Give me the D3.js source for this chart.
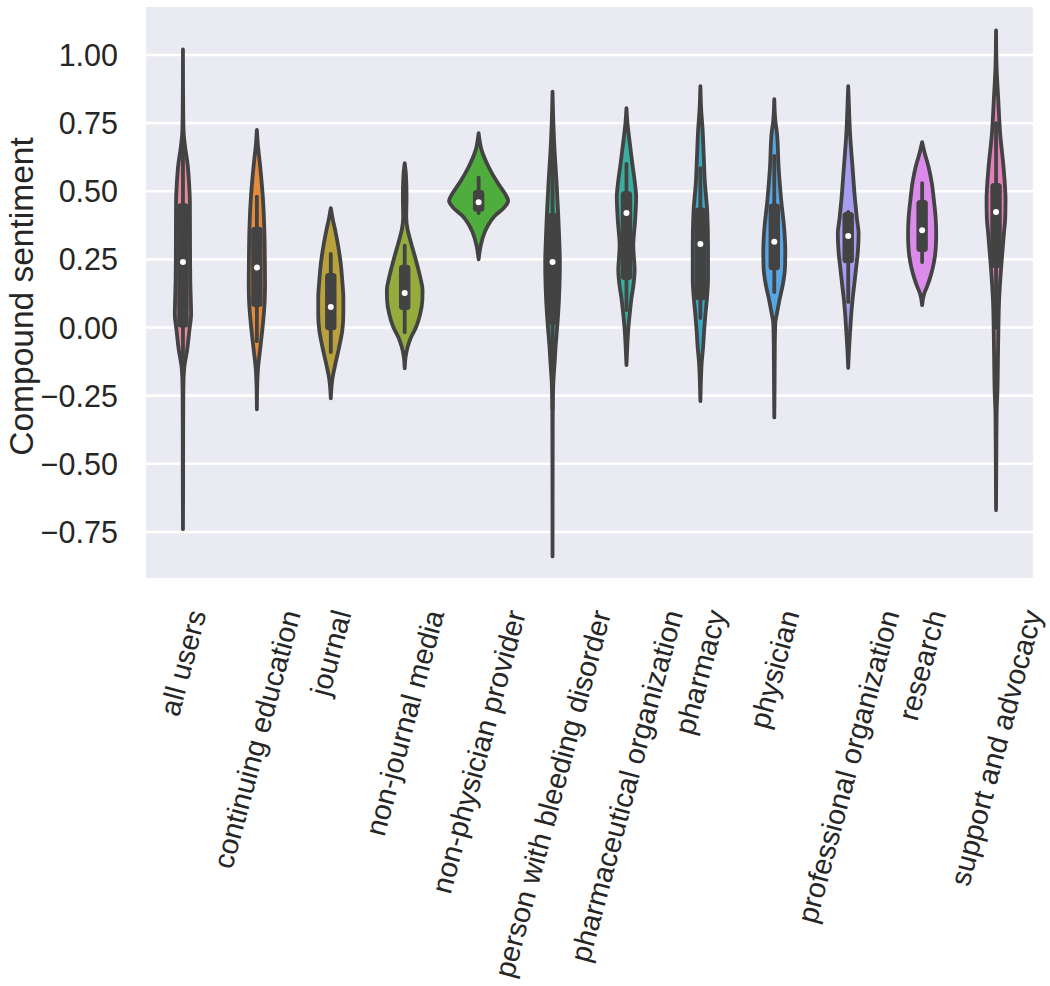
<!DOCTYPE html>
<html>
<head>
<meta charset="utf-8">
<script src="https://cdn.jsdelivr.net/npm/d3@7"></script>
<style>
  html, body { margin: 0; padding: 0; background: #ffffff; }
  svg { display: block; }
  text { font-family: "Liberation Sans", Arial, Helvetica, sans-serif; fill: #262626; }
</style>
</head>
<body>
<svg id="chart" width="1050" height="986"></svg>
<script>
// ---------------- data ----------------
const categories = [
  "all users", "continuing education", "journal", "non-journal media",
  "non-physician provider", "person with bleeding disorder",
  "pharmaceutical organization", "pharmacy", "physician",
  "professional organization", "research", "support and advocacy"
];
const colors = [
  "#e5899b", "#e48b3c", "#b9a13c", "#95ab3c", "#4fad3e", "#3aaa86",
  "#3aae9f", "#3ba8c2", "#57a7e6", "#a79df0", "#dc8aec", "#e67dbd"
];
const yTicks = [1.0, 0.75, 0.5, 0.25, 0.0, -0.25, -0.5, -0.75];

const whiskerLow  = [-0.30, -0.05, -0.09, -0.017, 0.42, -0.30, 0.064, 0.035, 0.13, 0.094, 0.24, 0.00];
const q1          = [ 0.00,  0.075, -0.01, 0.064, 0.425, 0.01, 0.174, 0.10, 0.21, 0.236, 0.277, 0.218];
const medians     = [ 0.24,  0.22,  0.075, 0.127, 0.46,  0.24, 0.42,  0.306, 0.315, 0.336, 0.357, 0.424];
const q3          = [ 0.456, 0.37,  0.20,  0.23,  0.505, 0.42, 0.50,  0.44, 0.455, 0.424, 0.468, 0.53];
const whiskerHigh = [ 0.75,  0.48,  0.27,  0.30,  0.55,  0.68, 0.60,  0.585, 0.63, 0.424, 0.53, 0.75];

// density profiles: [value, relative density]
const densityAllUsers = [[1.02,0],[0.88,0.1],[0.78,0.3],[0.72,0.6],[0.66,2.2],[0.60,4.5],[0.53,6],[0.456,6.8],[0.36,6.9],[0.25,7],[0.17,7.2],[0.10,7.7],[0.05,8],[-0.01,6.3],[-0.08,4.2],[-0.15,1.2],[-0.22,0.4],[-0.4,0.2],[-0.6,0.15],[-0.74,0]];
const densityContinuing = [[0.725,0],[0.67,1],[0.60,3],[0.48,5.8],[0.36,7.3],[0.25,7.8],[0.17,8],[0.10,7.7],[0.05,6.8],[-0.01,5.3],[-0.07,3.5],[-0.156,1],[-0.22,0.3],[-0.30,0]];
const densityJournal = [[0.438,0],[0.40,1.8],[0.357,4.3],[0.30,7.2],[0.236,9.7],[0.17,11.3],[0.11,12.3],[0.05,12.3],[-0.01,11.3],[-0.07,8.3],[-0.13,4.7],[-0.19,1.5],[-0.26,0]];
const densityNonJournal = [[0.603,0],[0.56,1.2],[0.48,1.8],[0.405,1.5],[0.36,2.8],[0.32,5.5],[0.236,11.8],[0.18,15.5],[0.138,17.5],[0.10,17.3],[0.05,15.2],[0.0,11],[-0.035,6.3],[-0.07,3],[-0.11,0.8],[-0.15,0]];
const densityNonPhysician = [[0.713,0],[0.65,3],[0.59,9.7],[0.53,18.8],[0.49,26],[0.465,29],[0.44,25],[0.41,16],[0.38,10],[0.35,6],[0.30,2],[0.25,0]];
const densityPerson = [[0.865,0],[0.787,0.5],[0.662,1.8],[0.54,3.8],[0.42,5.5],[0.33,6.5],[0.236,7.2],[0.15,6.8],[0.05,5.5],[0.0,4.5],[-0.07,3],[-0.12,2.2],[-0.2,0.8],[-0.3,0.2],[-0.5,0.1],[-0.84,0]];
const densityPharma = [[0.805,0],[0.75,1],[0.70,2.5],[0.60,5.8],[0.53,8.3],[0.48,9.5],[0.394,8.5],[0.30,6.7],[0.21,8],[0.16,7],[0.11,5],[0.05,3.2],[-0.01,1.7],[-0.07,0.8],[-0.138,0]];
const densityPharmacy = [[0.886,0],[0.80,0.8],[0.725,2.2],[0.63,3.3],[0.54,4.3],[0.42,6.8],[0.30,7.5],[0.174,7.5],[0.11,6.5],[0.05,5],[-0.01,3.7],[-0.07,2.7],[-0.13,1.3],[-0.2,0.5],[-0.27,0]];
const densityPhysician = [[0.838,0],[0.76,1],[0.71,2.7],[0.59,4.2],[0.47,6.7],[0.35,10],[0.28,10.8],[0.22,10.5],[0.16,8.5],[0.10,5],[0.05,2.5],[0.016,1],[-0.07,0.5],[-0.2,0.3],[-0.33,0]];
const densityProfessional = [[0.886,0],[0.835,0.5],[0.713,1.8],[0.59,4.2],[0.468,6.7],[0.40,8.5],[0.345,10.2],[0.28,9.5],[0.22,7.8],[0.16,6],[0.10,4.2],[0.04,2.8],[-0.02,1.8],[-0.08,0.8],[-0.148,0]];
const densityResearch = [[0.68,0],[0.64,2.5],[0.59,6.3],[0.53,9.5],[0.468,11.5],[0.40,13.3],[0.345,13.8],[0.30,13.5],[0.26,12.5],[0.22,10.5],[0.185,8],[0.15,4.8],[0.126,2.2],[0.082,0]];
const densitySupport = [[1.09,0],[0.96,0.5],[0.835,2.2],[0.713,4],[0.59,7.3],[0.468,9.3],[0.40,9],[0.345,7.7],[0.22,5],[0.10,3],[-0.08,2],[-0.24,1.3],[-0.31,0.6],[-0.45,0.3],[-0.67,0]];

const profiles = [densityAllUsers, densityContinuing, densityJournal, densityNonJournal,
  densityNonPhysician, densityPerson, densityPharma, densityPharmacy, densityPhysician,
  densityProfessional, densityResearch, densitySupport];

// ---------------- layout ----------------
const plot = { left: 146, right: 1033, top: 7, bottom: 578 };
const gray = "#434343";
const outlineW = 3.8;

const svg = d3.select("#chart");

const x = d3.scaleBand().domain(categories).range([plot.left, plot.right]).padding(0);
const y = d3.scaleLinear().domain([-0.919, 1.176]).range([plot.bottom, plot.top]);
const maxDensity = d3.max(profiles, p => d3.max(p, d => d[1]));
const w = d3.scaleLinear().domain([0, maxDensity]).range([0, x.bandwidth() * 0.4]);

// background
svg.append("rect")
  .attr("x", plot.left).attr("y", plot.top)
  .attr("width", plot.right - plot.left).attr("height", plot.bottom - plot.top)
  .attr("fill", "#eaeaf2");

// grid
svg.append("g").selectAll("line").data(yTicks).join("line")
  .attr("x1", plot.left).attr("x2", plot.right)
  .attr("y1", d => y(d)).attr("y2", d => y(d))
  .attr("stroke", "#ffffff").attr("stroke-width", 2.6);

// y axis tick labels
const fmt = d3.format(".2f");
svg.append("g").selectAll("text").data(yTicks).join("text")
  .attr("x", 118).attr("y", d => y(d))
  .attr("text-anchor", "end").attr("dominant-baseline", "central")
  .style("font-size", "30.5px")
  .text(d => fmt(d));

// y label
svg.append("text")
  .attr("transform", `translate(33,${(plot.top + plot.bottom) / 2 + 4}) rotate(-90)`)
  .attr("text-anchor", "middle")
  .style("font-size", "33.5px")
  .text("Compound sentiment");

// violins
const g = svg.append("g");
categories.forEach((cat, i) => {
  const cx = x(cat) + x.bandwidth() / 2;
  const area = d3.area()
    .curve(d3.curveMonotoneY)
    .y(d => y(d[0]))
    .x0(d => cx - w(d[1]))
    .x1(d => cx + w(d[1]));
  const vg = g.append("g");
  vg.append("path")
    .attr("d", area(profiles[i]))
    .attr("fill", colors[i])
    .attr("stroke", gray)
    .attr("stroke-width", outlineW)
    .attr("stroke-linejoin", "round");
  // whisker
  vg.append("line")
    .attr("x1", cx).attr("x2", cx)
    .attr("y1", y(whiskerHigh[i])).attr("y2", y(whiskerLow[i]))
    .attr("stroke", gray).attr("stroke-width", outlineW)
    .attr("stroke-linecap", "round");
  // box
  const bw = outlineW * 3;
  vg.append("rect")
    .attr("x", cx - bw / 2).attr("width", bw)
    .attr("y", y(q3[i])).attr("height", y(q1[i]) - y(q3[i]))
    .attr("rx", 3.5).attr("ry", 3.5)
    .attr("fill", gray);
  // median
  vg.append("circle")
    .attr("cx", cx).attr("cy", y(medians[i]))
    .attr("r", 3).attr("fill", "#ffffff");
});

// x tick labels (rotated 75deg, bbox centred on tick, top aligned)
const fs = 29;
const ang = 75 * Math.PI / 180;
const labelTop = 607;
const xl = svg.append("g");
categories.forEach(cat => {
  const cx = x(cat) + x.bandwidth() / 2;
  const t = xl.append("text")
    .attr("text-anchor", "middle")
    .attr("dominant-baseline", "central")
    .style("font-size", fs + "px")
    .text(cat);
  const L = t.node().getComputedTextLength();
  const H = fs * 1.0;
  const bh = L * Math.sin(ang) + H * Math.cos(ang);
  t.attr("transform", `translate(${cx},${labelTop + bh / 2}) rotate(-75)`);
});
</script>
</body>
</html>
